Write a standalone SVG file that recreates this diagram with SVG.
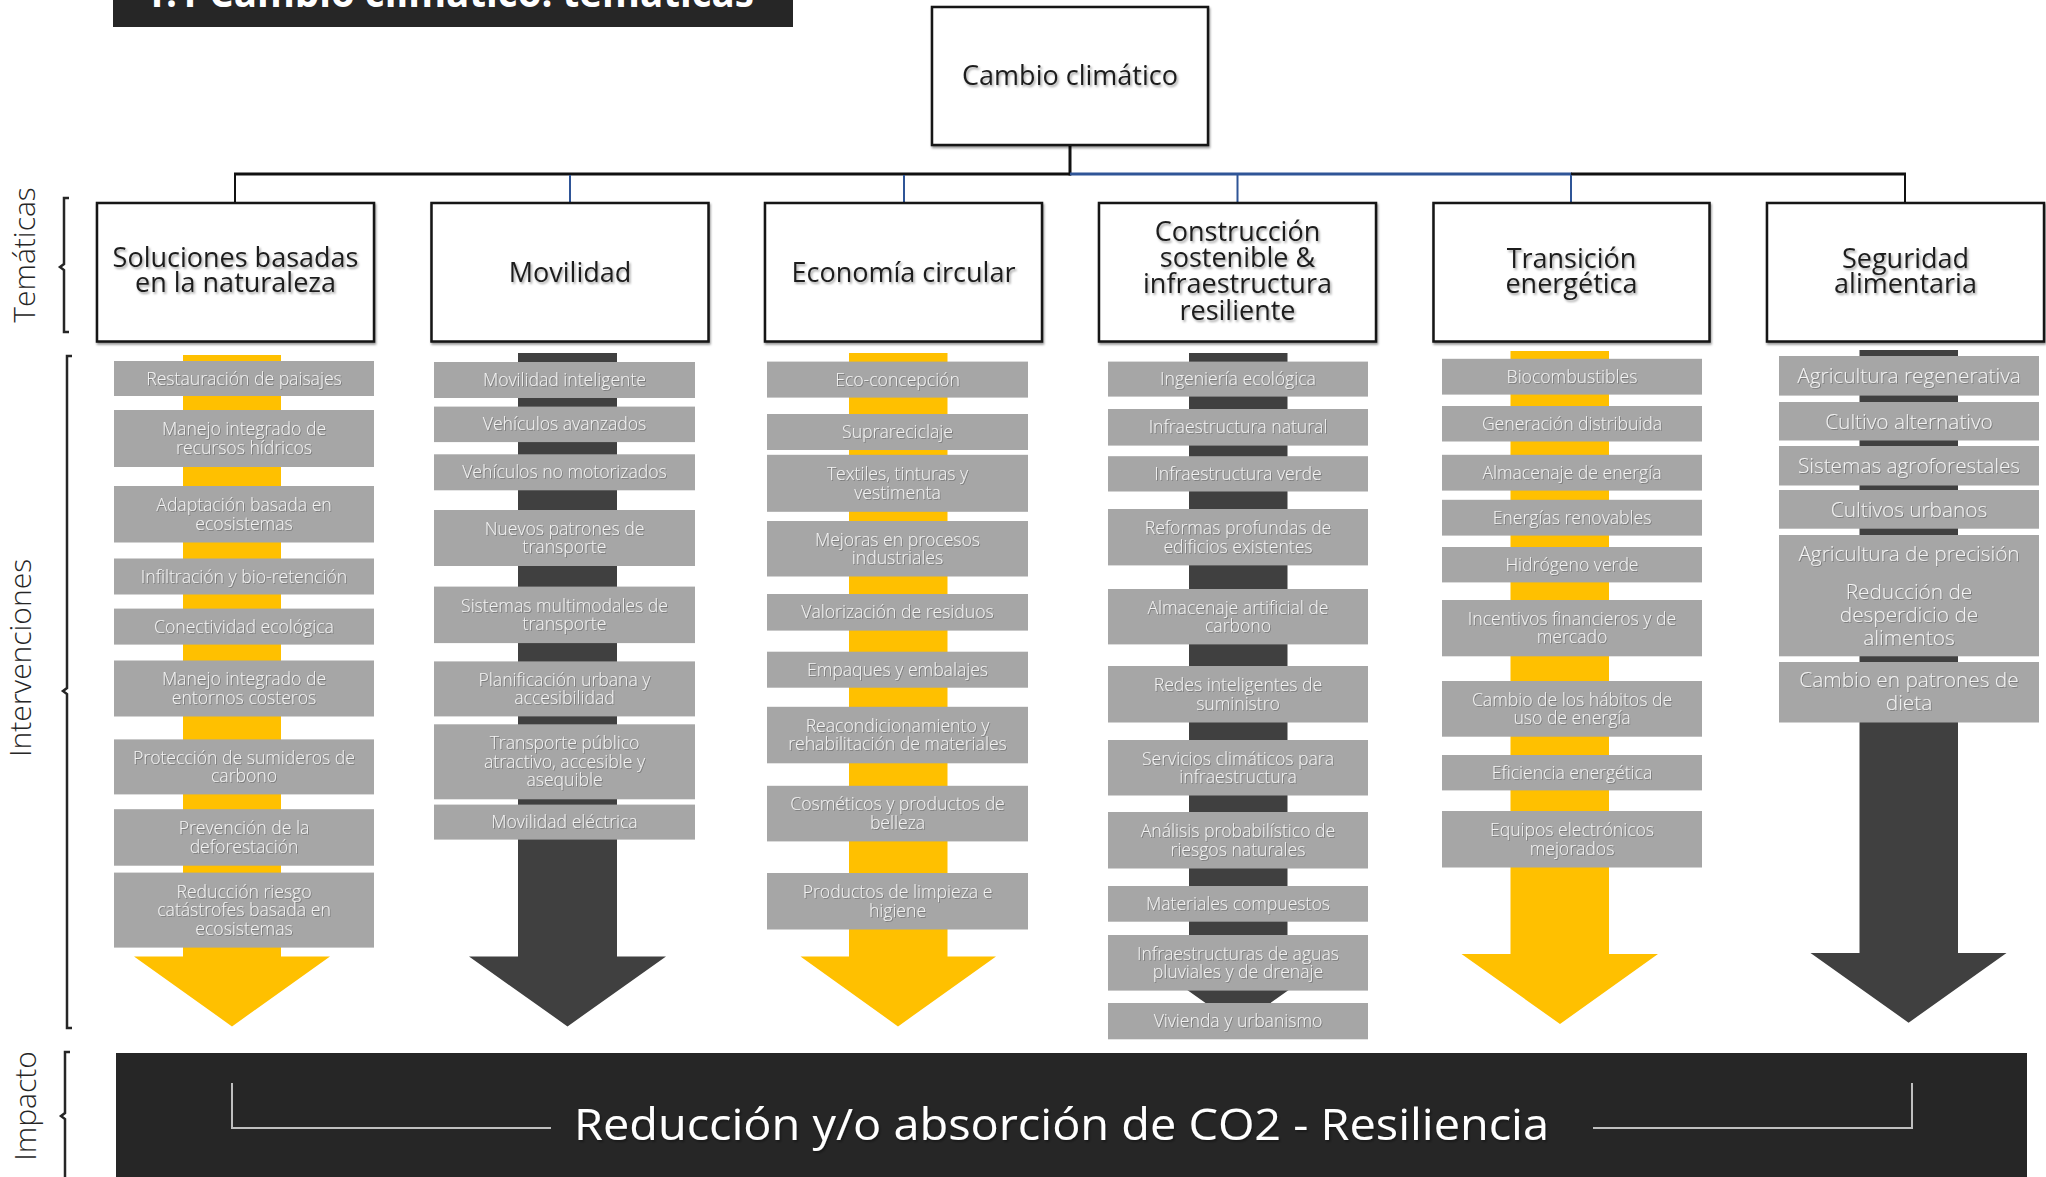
<svg xmlns="http://www.w3.org/2000/svg" width="2046" height="1177" viewBox="0 0 2046 1177">
<defs>
<filter id="ts" x="-10%" y="-40%" width="125%" height="190%"><feDropShadow dx="1.5" dy="2" stdDeviation="1" flood-color="#000" flood-opacity="0.35"/></filter>
<filter id="bs" x="-5%" y="-5%" width="112%" height="112%"><feDropShadow dx="1" dy="2" stdDeviation="1" flood-color="#000" flood-opacity="0.4"/></filter>
<filter id="ws" x="-10%" y="-40%" width="125%" height="190%"><feDropShadow dx="1" dy="1" stdDeviation="0.6" flood-color="#000" flood-opacity="0.25"/></filter>
</defs>
<style>
text{font-family:"Open Sans","Liberation Sans",sans-serif;}
.box rect{fill:#ffffff;stroke:#151515;stroke-width:2.5;filter:url(#bs);}
.box text{font-size:27px;fill:#1e1e1e;text-anchor:middle;filter:url(#ts);}
.iv rect{fill:#A6A6A6;}
.iv text{font-size:17.6px;font-weight:300;fill:#F4F4F4;text-anchor:middle;filter:url(#ws);}
.iv6 text{font-size:20.8px;}
.yel{fill:#FFC000;}
.drk{fill:#404040;}
.lbl{font-size:30px;font-weight:300;fill:#262626;text-anchor:middle;}
.brk{fill:none;stroke:#262626;stroke-width:2.5;}
.cb{stroke:#111;stroke-width:3;fill:none;}
.cbl{stroke:#2F5597;stroke-width:3;fill:none;}
.vb{stroke:#2F5597;stroke-width:2;}
.vk{stroke:#111;stroke-width:2;}
</style>

<!-- title -->
<g id="title">
<rect x="113" y="0" width="680" height="27" fill="#262626"/>
<text x="144" y="7" font-size="42" font-weight="700" fill="#ffffff" textLength="610" lengthAdjust="spacingAndGlyphs">1.1 Cambio climático: temáticas</text>
</g>

<!-- side labels -->
<g id="side-labels">
<text class="lbl" transform="translate(35,255) rotate(-90)">Temáticas</text>
<path class="brk" d="M69,198 H64 V264 L60,267 L64,270 V332 H69"/>
<text class="lbl" transform="translate(31,658) rotate(-90)" font-size="29">Intervenciones</text>
<path class="brk" d="M72,356 H67 V688 L63,691 L67,694 V1028 H72"/>
<text class="lbl" transform="translate(36,1106) rotate(-90)">Impacto</text>
<path class="brk" d="M70,1052 H65 V1113 L61,1116 L65,1119 V1177"/>
</g>

<!-- connectors -->
<g id="connectors">
<line class="cb" x1="1070" y1="145" x2="1070" y2="175.5"/>
<line class="cb" x1="234" y1="174" x2="1071" y2="174"/>
<line class="cbl" x1="1070" y1="174" x2="1572" y2="174"/>
<line class="cb" x1="1571" y1="174" x2="1906" y2="174"/>
<line class="vk" x1="235" y1="174" x2="235" y2="203"/>
<line class="vb" x1="570" y1="175" x2="570" y2="203"/>
<line class="vb" x1="904" y1="175" x2="904" y2="203"/>
<line class="vb" x1="1237.5" y1="175" x2="1237.5" y2="203"/>
<line class="vb" x1="1571" y1="175" x2="1571" y2="203"/>
<line class="vk" x1="1905" y1="174" x2="1905" y2="203"/>
</g>

<!-- root -->
<g id="root" class="box">
<rect x="932" y="7" width="276" height="138"/>
<text x="1070" y="84.5">Cambio climático</text>
</g>

<!-- theme boxes -->
<g id="t1" class="box"><rect x="97" y="203" width="277" height="138.5"/><text x="235.5" y="267">Soluciones basadas<tspan x="235.5" y="292">en la naturaleza</tspan></text></g>
<g id="t2" class="box"><rect x="431.5" y="203" width="277" height="138.5"/><text x="570" y="281.5">Movilidad</text></g>
<g id="t3" class="box"><rect x="765" y="203" width="277" height="138.5"/><text x="903.5" y="281.5">Economía circular</text></g>
<g id="t4" class="box"><rect x="1099" y="203" width="277" height="138.5"/><text x="1237.5" y="240.5">Construcción<tspan x="1237.5" y="266.5">sostenible &amp;</tspan><tspan x="1237.5" y="293">infraestructura</tspan><tspan x="1237.5" y="319.5">resiliente</tspan></text></g>
<g id="t5" class="box"><rect x="1433.5" y="203" width="276" height="138.5"/><text x="1571.5" y="267.5">Transición<tspan x="1571.5" y="292.5">energética</tspan></text></g>
<g id="t6" class="box"><rect x="1767" y="203" width="277" height="138.5"/><text x="1905.5" y="267.5">Seguridad<tspan x="1905.5" y="292.5">alimentaria</tspan></text></g>

<!-- arrows -->
<g id="arrows">
<path class="yel" d="M183,355 H281 V956.6 H330 L232,1026.4 L134,956.6 H183 Z"/>
<path class="drk" d="M518,353 H617 V956.6 H666 L567.5,1026.4 L469,956.6 H518 Z"/>
<path class="yel" d="M849,353 H947.5 V956.6 H996 L898,1026.4 L800.5,956.6 H849 Z"/>
<path class="drk" d="M1189,353 H1287.5 V956.6 H1336 L1238,1026 L1140,956.6 H1189 Z"/>
<path class="yel" d="M1510.5,351 H1609 V954 H1658 L1560,1024 L1461.5,954 H1510.5 Z"/>
<path class="drk" d="M1859.5,350 H1958 V953 H2006.5 L1908.6,1022.7 L1810.5,953 H1859.5 Z"/>
</g>

<!-- column 1 -->
<g id="c1">
<g id="c1-1" class="iv"><rect x="114" y="361" width="260" height="35"/><text x="244" y="384.5">Restauración de paisajes</text></g>
<g id="c1-2" class="iv"><rect x="114" y="410" width="260" height="57"/><text x="244" y="435.3">Manejo integrado de<tspan x="244" y="453.8">recursos hídricos</tspan></text></g>
<g id="c1-3" class="iv"><rect x="114" y="486" width="260" height="56.5"/><text x="244" y="511">Adaptación basada en<tspan x="244" y="529.5">ecosistemas</tspan></text></g>
<g id="c1-4" class="iv"><rect x="114" y="558.5" width="260" height="36"/><text x="244" y="582.5">Infiltración y bio-retención</text></g>
<g id="c1-5" class="iv"><rect x="114" y="608.6" width="260" height="36"/><text x="244" y="632.6">Conectividad ecológica</text></g>
<g id="c1-6" class="iv"><rect x="114" y="660.5" width="260" height="56"/><text x="244" y="685.3">Manejo integrado de<tspan x="244" y="703.8">entornos costeros</tspan></text></g>
<g id="c1-7" class="iv"><rect x="114" y="739.4" width="260" height="55"/><text x="244" y="763.8">Protección de sumideros de<tspan x="244" y="782.3">carbono</tspan></text></g>
<g id="c1-8" class="iv"><rect x="114" y="809.2" width="260" height="56.5"/><text x="244" y="834.3">Prevención de la<tspan x="244" y="852.8">deforestación</tspan></text></g>
<g id="c1-9" class="iv"><rect x="114" y="872.6" width="260" height="75"/><text x="244" y="897.5">Reducción riesgo<tspan x="244" y="916">catástrofes basada en</tspan><tspan x="244" y="934.5">ecosistemas</tspan></text></g>
</g>

<!-- column 2 -->
<g id="c2">
<g id="c2-1" class="iv"><rect x="434" y="362" width="261" height="36"/><text x="564.5" y="386">Movilidad inteligente</text></g>
<g id="c2-2" class="iv"><rect x="434" y="406.6" width="261" height="35.5"/><text x="564.5" y="430.4">Vehículos avanzados</text></g>
<g id="c2-3" class="iv"><rect x="434" y="454.3" width="261" height="36"/><text x="564.5" y="478.3">Vehículos no motorizados</text></g>
<g id="c2-4" class="iv"><rect x="434" y="510" width="261" height="56"/><text x="564.5" y="534.8">Nuevos patrones de<tspan x="564.5" y="553.3">transporte</tspan></text></g>
<g id="c2-5" class="iv"><rect x="434" y="586.6" width="261" height="56.5"/><text x="564.5" y="611.6">Sistemas multimodales de<tspan x="564.5" y="630.1">transporte</tspan></text></g>
<g id="c2-6" class="iv"><rect x="434" y="661.4" width="261" height="55"/><text x="564.5" y="685.7">Planificación urbana y<tspan x="564.5" y="704.2">accesibilidad</tspan></text></g>
<g id="c2-7" class="iv"><rect x="434" y="724.3" width="261" height="75"/><text x="564.5" y="749.3">Transporte público<tspan x="564.5" y="767.8">atractivo, accesible y</tspan><tspan x="564.5" y="786.3">asequible</tspan></text></g>
<g id="c2-8" class="iv"><rect x="434" y="804.6" width="261" height="35"/><text x="564.5" y="828.1">Movilidad eléctrica</text></g>
</g>

<!-- column 3 -->
<g id="c3">
<g id="c3-1" class="iv"><rect x="767" y="361.6" width="261" height="36"/><text x="897.5" y="385.6">Eco-concepción</text></g>
<g id="c3-2" class="iv"><rect x="767" y="414" width="261" height="36"/><text x="897.5" y="438">Suprareciclaje</text></g>
<g id="c3-3" class="iv"><rect x="767" y="454.8" width="261" height="57"/><text x="897.5" y="480">Textiles, tinturas y<tspan x="897.5" y="498.5">vestimenta</tspan></text></g>
<g id="c3-4" class="iv"><rect x="767" y="521" width="261" height="55.5"/><text x="897.5" y="545.5">Mejoras en procesos<tspan x="897.5" y="564">industriales</tspan></text></g>
<g id="c3-5" class="iv"><rect x="767" y="594" width="261" height="36.6"/><text x="897.5" y="618.3">Valorización de residuos</text></g>
<g id="c3-6" class="iv"><rect x="767" y="651.7" width="261" height="36"/><text x="897.5" y="675.7">Empaques y embalajes</text></g>
<g id="c3-7" class="iv"><rect x="767" y="706.8" width="261" height="56.5"/><text x="897.5" y="731.8">Reacondicionamiento y<tspan x="897.5" y="750.3">rehabilitación de materiales</tspan></text></g>
<g id="c3-8" class="iv"><rect x="767" y="785.8" width="261" height="55.6"/><text x="897.5" y="810.4">Cosméticos y productos de<tspan x="897.5" y="828.9">belleza</tspan></text></g>
<g id="c3-9" class="iv"><rect x="767" y="873" width="261" height="56.5"/><text x="897.5" y="898">Productos de limpieza e<tspan x="897.5" y="916.5">higiene</tspan></text></g>
</g>

<!-- column 4 -->
<g id="c4">
<g id="c4-1" class="iv"><rect x="1108" y="361.6" width="260" height="35"/><text x="1238" y="385.1">Ingeniería ecológica</text></g>
<g id="c4-2" class="iv"><rect x="1108" y="409" width="260" height="36.6"/><text x="1238" y="433.3">Infraestructura natural</text></g>
<g id="c4-3" class="iv"><rect x="1108" y="456.2" width="260" height="35.3"/><text x="1238" y="479.9">Infraestructura verde</text></g>
<g id="c4-4" class="iv"><rect x="1108" y="509" width="260" height="56.4"/><text x="1238" y="534">Reformas profundas de<tspan x="1238" y="552.5">edificios existentes</tspan></text></g>
<g id="c4-5" class="iv"><rect x="1108" y="589" width="260" height="55.4"/><text x="1238" y="613.5">Almacenaje artificial de<tspan x="1238" y="632">carbono</tspan></text></g>
<g id="c4-6" class="iv"><rect x="1108" y="666" width="260" height="56.5"/><text x="1238" y="691">Redes inteligentes de<tspan x="1238" y="709.5">suministro</tspan></text></g>
<g id="c4-7" class="iv"><rect x="1108" y="740" width="260" height="55.5"/><text x="1238" y="764.5">Servicios climáticos para<tspan x="1238" y="783">infraestructura</tspan></text></g>
<g id="c4-8" class="iv"><rect x="1108" y="812" width="260" height="56.5"/><text x="1238" y="837">Análisis probabilístico de<tspan x="1238" y="855.5">riesgos naturales</tspan></text></g>
<g id="c4-9" class="iv"><rect x="1108" y="886" width="260" height="35.7"/><text x="1238" y="909.9">Materiales compuestos</text></g>
<g id="c4-10" class="iv"><rect x="1108" y="935" width="260" height="55.6"/><text x="1238" y="959.6">Infraestructuras de aguas<tspan x="1238" y="978.1">pluviales y de drenaje</tspan></text></g>
<g id="c4-11" class="iv"><rect x="1108" y="1003" width="260" height="36.3"/><text x="1238" y="1027.2">Vivienda y urbanismo</text></g>
</g>

<!-- column 5 -->
<g id="c5">
<g id="c5-1" class="iv"><rect x="1442" y="358.8" width="260" height="35.8"/><text x="1572" y="382.7">Biocombustibles</text></g>
<g id="c5-2" class="iv"><rect x="1442" y="406" width="260" height="35.5"/><text x="1572" y="429.8">Generación distribuida</text></g>
<g id="c5-3" class="iv"><rect x="1442" y="454.8" width="260" height="35.8"/><text x="1572" y="478.7">Almacenaje de energía</text></g>
<g id="c5-4" class="iv"><rect x="1442" y="499.8" width="260" height="35.8"/><text x="1572" y="523.7">Energías renovables</text></g>
<g id="c5-5" class="iv"><rect x="1442" y="547" width="260" height="35.4"/><text x="1572" y="570.7">Hidrógeno verde</text></g>
<g id="c5-6" class="iv"><rect x="1442" y="600" width="260" height="56.3"/><text x="1572" y="624.9">Incentivos financieros y de<tspan x="1572" y="643.4">mercado</tspan></text></g>
<g id="c5-7" class="iv"><rect x="1442" y="681" width="260" height="55.7"/><text x="1572" y="705.6">Cambio de los hábitos de<tspan x="1572" y="724.1">uso de energía</tspan></text></g>
<g id="c5-8" class="iv"><rect x="1442" y="755" width="260" height="35.4"/><text x="1572" y="778.7">Eficiencia energética</text></g>
<g id="c5-9" class="iv"><rect x="1442" y="811" width="260" height="56.5"/><text x="1572" y="836">Equipos electrónicos<tspan x="1572" y="854.5">mejorados</tspan></text></g>
</g>

<!-- column 6 -->
<g id="c6">
<g id="c6-1" class="iv iv6"><rect x="1779" y="356" width="260" height="39.6"/><text x="1909" y="383">Agricultura regenerativa</text></g>
<g id="c6-2" class="iv iv6"><rect x="1779" y="402" width="260" height="38.5"/><text x="1909" y="428.5">Cultivo alternativo</text></g>
<g id="c6-3" class="iv iv6"><rect x="1779" y="446" width="260" height="39.5"/><text x="1909" y="473">Sistemas agroforestales</text></g>
<g id="c6-4" class="iv iv6"><rect x="1779" y="490" width="260" height="38.7"/><text x="1909" y="516.6">Cultivos urbanos</text></g>
<g id="c6-5" class="iv iv6"><rect x="1779" y="535" width="260" height="39.5"/><text x="1909" y="560.7">Agricultura de precisión</text></g>
<g id="c6-6" class="iv iv6"><rect x="1779" y="574" width="260" height="82.3"/><text x="1909" y="598.8">Reducción de<tspan x="1909" y="621.8">desperdicio de</tspan><tspan x="1909" y="644.7">alimentos</tspan></text></g>
<g id="c6-7" class="iv iv6"><rect x="1779" y="662" width="260" height="60.5"/><text x="1909" y="687">Cambio en patrones de<tspan x="1909" y="709.9">dieta</tspan></text></g>
</g>

<!-- impact -->
<g id="impact">
<rect x="116" y="1053" width="1911" height="130" fill="#262626"/>
<path d="M232,1083 V1128 H551" fill="none" stroke="#BFBFBF" stroke-width="2"/>
<path d="M1593,1128 H1912 V1083" fill="none" stroke="#BFBFBF" stroke-width="2"/>
<text x="574" y="1140" font-size="44" fill="#ffffff" filter="url(#ts)" textLength="975" lengthAdjust="spacingAndGlyphs">Reducción y/o absorción de CO2 - Resiliencia</text>
</g>
</svg>
